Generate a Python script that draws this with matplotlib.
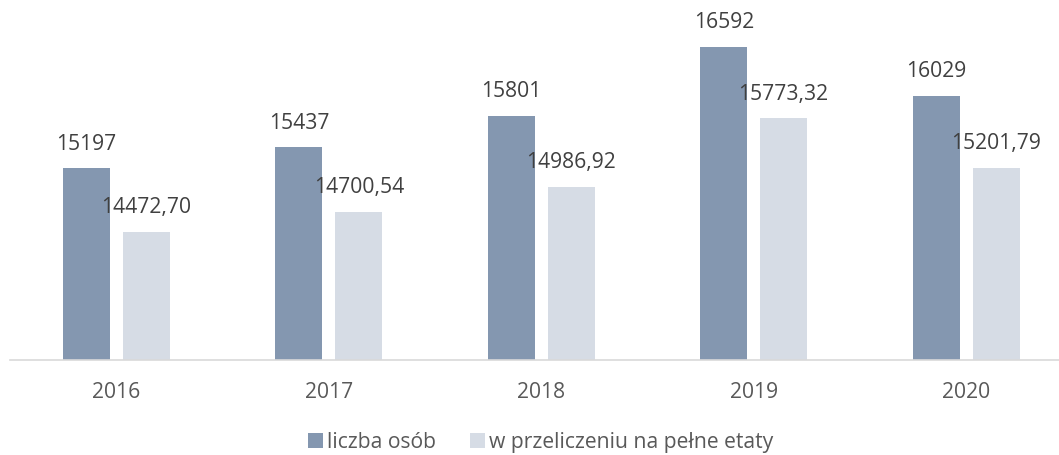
import matplotlib
matplotlib.use("Agg")
import matplotlib.pyplot as plt
import numpy as np
from matplotlib.patches import Patch

plt.rcParams['font.family'] = ['Open Sans', 'DejaVu Sans']

years = ["2016", "2017", "2018", "2019", "2020"]
liczba_osob = [15197, 15437, 15801, 16592, 16029]
etaty = [14472.70, 14700.54, 14986.92, 15773.32, 15201.79]
labels_osob = ["15197", "15437", "15801", "16592", "16029"]
labels_etaty = ["14472,70", "14700,54", "14986,92", "15773,32", "15201,79"]
series_names = ["liczba osób", "w przeliczeniu na pełne etaty"]

c1 = "#8497B0"
c2 = "#D6DCE5"
txt = "#404040"
tick_c = "#595959"

W, H = 1059, 456
fig = plt.figure(figsize=(W / 100, H / 100), dpi=100)
ax = fig.add_axes([10.3 / W, (H - 361) / H, 1062 / W, 349 / H])

x = np.arange(len(years))
bw = 0.221
off = 0.141
b1 = ax.bar(x - off, liczba_osob, bw, color=c1, label=series_names[0])
b2 = ax.bar(x + off, etaty, bw, color=c2, label=series_names[1])

ax.set_xlim(-0.5, len(years) - 0.5)
ax.set_ylim(13000, 17000)

fs = 15.2
for rect, lab in zip(b1, labels_osob):
    ax.annotate(lab, (rect.get_x() + rect.get_width() / 2, rect.get_height()),
                xytext=(0, 14), textcoords="offset points", ha="center", va="baseline",
                fontsize=fs, color=txt)
for rect, lab in zip(b2, labels_etaty):
    ax.annotate(lab, (rect.get_x() + rect.get_width() / 2, rect.get_height()),
                xytext=(0, 14), textcoords="offset points", ha="center", va="baseline",
                fontsize=fs, color=txt)

ax.set_xticks(x)
ax.set_xticklabels(years, fontsize=fs, color=tick_c)
ax.tick_params(axis="x", length=0, pad=15)
ax.set_yticks([])
for s in ["top", "left", "right"]:
    ax.spines[s].set_visible(False)
ax.spines["bottom"].set_color("#D9D9D9")
ax.spines["bottom"].set_linewidth(1.2)

handles = [Patch(facecolor=c1, edgecolor="none"), Patch(facecolor=c2, edgecolor="none")]
fig.legend(handles, series_names, loc="center", bbox_to_anchor=(541 / W, 1 - 443 / H),
           ncol=2, frameon=False, fontsize=fs, labelcolor=tick_c,
           handlelength=0.7, handleheight=0.7, handletextpad=0.2, columnspacing=1.6)

fig.savefig("out.png", dpi=100)
